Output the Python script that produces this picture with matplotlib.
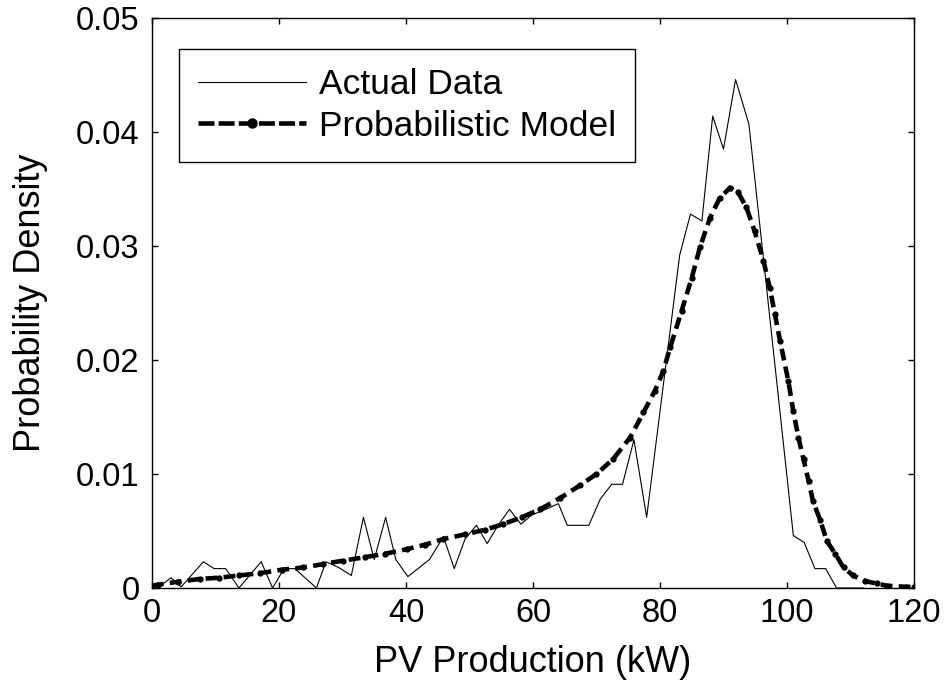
"""PV production probability density: histogram data vs probabilistic model."""

import matplotlib
matplotlib.use("Agg")
import matplotlib.pyplot as plt

# Actual data (histogram density)
actual_x = [0, 1.6, 3.0, 4.6, 8.1, 9.8, 11.6, 13.7, 17.2, 19.0, 20.8, 22.5,
            25.9, 27.4, 29.4, 31.4, 33.3, 35.0, 36.8, 38.4, 40.3, 43.7, 45.9,
            47.6, 49.3, 51.1, 52.8, 54.5, 56.3, 58.1, 59.8, 61.6, 64.0, 65.4,
            68.8, 70.6, 72.4, 74.1, 75.9, 77.9, 83.1, 84.8, 86.6, 88.3, 90.0,
            91.9, 94.0, 101.0, 102.7, 104.4, 106.1, 107.8, 112.0]
actual_y = [0.0003, 0.0003, 0.0009, 0.0001, 0.0023, 0.0017, 0.0017, 0.0,
            0.0023, 0.0, 0.0017, 0.0017, 0.0, 0.0023, 0.0018, 0.0011, 0.0062,
            0.0025, 0.0062, 0.0025, 0.0010, 0.0025, 0.0045, 0.0017, 0.0043,
            0.0055, 0.0039, 0.0055, 0.0069, 0.0056, 0.0064, 0.0068, 0.0074,
            0.0055, 0.0055, 0.0078, 0.0091, 0.0091, 0.0130, 0.0062, 0.0292,
            0.0328, 0.0322, 0.0414, 0.0385, 0.0446, 0.0407, 0.0046, 0.0040,
            0.0017, 0.0017, 0.0, 0.0]

# Probabilistic model curve
model_x = [0, 1.0, 4.1, 7.6, 10.5, 13.7, 17.0, 20.4, 23.8, 27.0, 30.1, 33.5,
           36.7, 40.1, 43.0, 45.9, 49.3, 52.4, 55.3, 58.2, 61.1, 64.3, 67.4,
           70.0, 72.6, 75.3, 77.4, 79.2, 80.5, 81.6, 83.4, 85.0, 86.3, 87.9,
           89.4, 91.0, 92.3, 93.6, 94.9, 96.3, 97.3, 98.1, 98.9, 100.2, 101.0,
           101.8, 102.6, 103.4, 104.1, 105.2, 106.3, 107.6, 108.9, 110.4,
           112.3, 114.1, 115.7, 118.8, 120]
model_y = [0.0002, 0.0003, 0.00055, 0.0008, 0.0009, 0.0011, 0.0013, 0.0016,
           0.0018, 0.0021, 0.0024, 0.0027, 0.0030, 0.0034, 0.0038, 0.0043,
           0.0047, 0.0051, 0.0056, 0.0062, 0.0069, 0.0079, 0.0090, 0.0100,
           0.0113, 0.0132, 0.0154, 0.0173, 0.0190, 0.0211, 0.0243, 0.0272,
           0.0299, 0.0325, 0.0342, 0.0351, 0.0347, 0.0334, 0.0313, 0.0287,
           0.0263, 0.0240, 0.0217, 0.0182, 0.0155, 0.0132, 0.0113, 0.0094,
           0.0076, 0.0060, 0.0041, 0.0030, 0.0018, 0.0011, 0.0006, 0.0004,
           0.0002, 0.0001, 0.0001]

x_ticks = [0, 20, 40, 60, 80, 100, 120]
y_ticks = [0, 0.01, 0.02, 0.03, 0.04, 0.05]
y_tick_labels = ["0", "0.01", "0.02", "0.03", "0.04", "0.05"]

plt.rcParams['font.family'] = ['Liberation Sans', 'DejaVu Sans']
plt.rcParams['lines.scale_dashes'] = False

fig = plt.figure(figsize=(9.45, 6.85), dpi=100)
ax = fig.add_axes([0.1608, 0.1416, 0.8064, 0.8321])

ax.plot(actual_x, actual_y, color='black', linewidth=0.8, label='Actual Data')
ax.plot(model_x, model_y, color='black', linewidth=3.3, linestyle='--',
        dashes=(8.5, 4.5), marker='.', markersize=7, label='Probabilistic Model')

ax.set_xlim(0, 120)
ax.set_ylim(0, 0.05)
ax.set_xticks(x_ticks)
ax.set_yticks(y_ticks)
ax.set_yticklabels(y_tick_labels)
ax.tick_params(direction='in', length=4.5, width=1, labelsize=23.5,
               top=True, right=True)
ax.tick_params(axis='y', pad=9)
ax.tick_params(axis='x', pad=7)
for side in ax.spines.values():
    side.set_linewidth(1)

ax.set_xlabel("PV Production (kW)", fontsize=26, labelpad=12)
ax.set_ylabel("Probability Density", fontsize=26)
ax.yaxis.set_label_coords(-0.137, 0.5)

leg = ax.legend(loc='upper left', bbox_to_anchor=(0.0354, 0.946),
                borderaxespad=0, fontsize=25.5, fancybox=False,
                handlelength=3.05, handletextpad=0.35, labelspacing=0.24,
                borderpad=0.55, framealpha=1)
leg.get_frame().set_edgecolor('black')
leg.get_frame().set_linewidth(1)
# legend sample: longer dashes and a visible dot, as in the original
model_handle = leg.legend_handles[1]
model_handle.set_dashes((11.5, 3))
model_handle.set_markersize(13)

fig.savefig("out.png", dpi=100)
